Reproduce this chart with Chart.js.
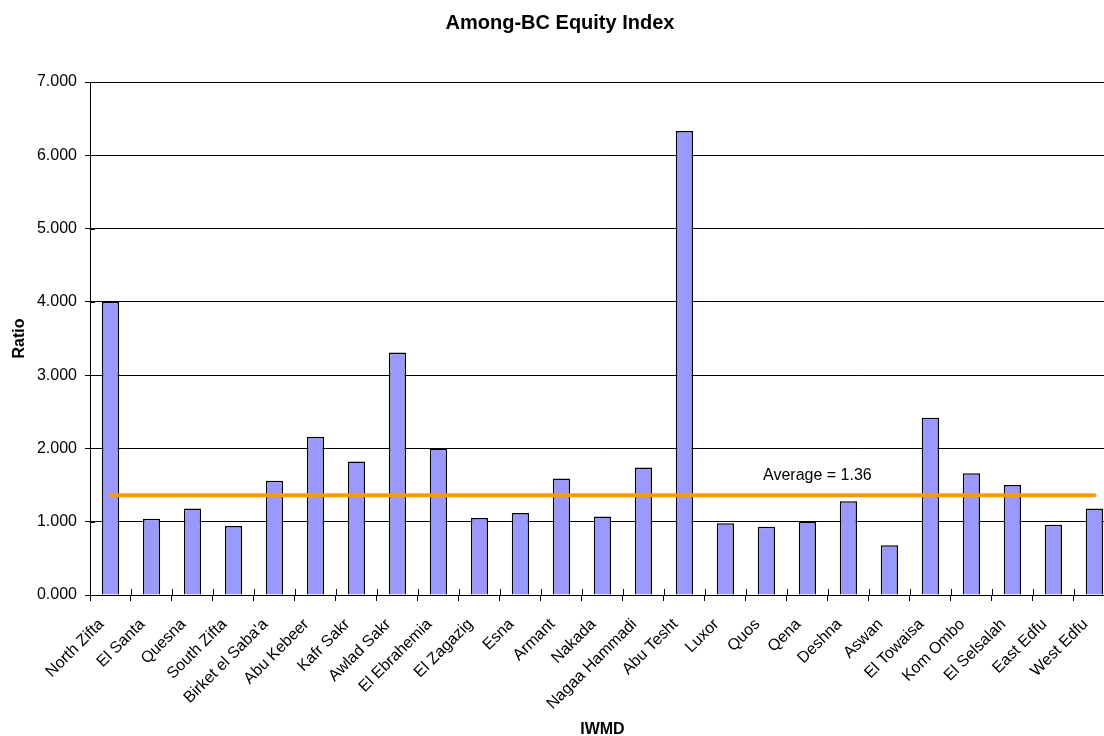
<!DOCTYPE html>
<html>
<head>
<meta charset="utf-8">
<script src="https://cdn.jsdelivr.net/npm/chart.js@4/dist/chart.umd.min.js"></script>
<style>
  html, body { margin: 0; padding: 0; background: #fff; overflow: hidden; }
  #wrap { width: 1122px; height: 736px; position: relative; }
</style>
</head>
<body>
<div id="wrap"><canvas id="chart"></canvas></div>
<script>
const districts = [
  'North Zifta', 'El Santa', 'Quesna', 'South Zifta', "Birket el Saba'a",
  'Abu Kebeer', 'Kafr Sakr', 'Awlad Sakr', 'El Ebrahemia', 'El Zagazig',
  'Esna', 'Armant', 'Nakada', 'Nagaa Hammadi', 'Abu Tesht',
  'Luxor', 'Quos', 'Qena', 'Deshna', 'Aswan',
  'El Towaisa', 'Kom Ombo', 'El Selsalah', 'East Edfu', 'West Edfu',
];
const ratios = [
  4.00, 1.04, 1.18, 0.94, 1.56,
  2.16, 1.82, 3.31, 2.00, 1.05,
  1.12, 1.59, 1.07, 1.74, 6.33,
  0.98, 0.93, 1.00, 1.28, 0.68,
  2.42, 1.66, 1.50, 0.96, 1.18,
];
const AVERAGE = 1.36;
const averageLine = districts.map(() => AVERAGE);

const FONT = 'Liberation Sans, Arial, Helvetica, sans-serif';

// "Average = 1.36" caption sitting just above the orange line
const averageLabel = {
  id: 'averageLabel',
  afterDatasetsDraw(chart) {
    const { ctx, scales: { x, y } } = chart;
    ctx.save();
    ctx.font = `16px ${FONT}`;
    ctx.fillStyle = '#000';
    ctx.textAlign = 'center';
    ctx.textBaseline = 'middle';
    ctx.fillText('Average = ' + AVERAGE.toFixed(2), x.getPixelForValue(17) + 10, y.getPixelForValue(AVERAGE) - 20);
    ctx.restore();
  },
};

// short tick marks poking inside the plot, so the axis ticks cross the axis lines
const innerTicks = {
  id: 'innerTicks',
  afterDraw(chart) {
    const { ctx, chartArea: area, scales: { x, y } } = chart;
    ctx.save();
    ctx.strokeStyle = '#000';
    ctx.lineWidth = 1;
    ctx.beginPath();
    for (let i = 1; i <= districts.length; i++) {
      const px = Math.round((x.getPixelForValue(i - 1) + x.getPixelForValue(i)) / 2) + 0.5;
      ctx.moveTo(px, area.bottom);
      ctx.lineTo(px, area.bottom - 6);
    }
    y.ticks.forEach(t => {
      const py = Math.round(y.getPixelForValue(t.value)) + 0.5;
      ctx.moveTo(area.left, py);
      ctx.lineTo(area.left + 5, py);
    });
    ctx.stroke();
    ctx.restore();
  },
};

new Chart(document.getElementById('chart'), {
  data: {
    labels: districts,
    datasets: [
      {
        type: 'line',
        label: 'Average',
        data: averageLine,
        borderColor: '#ff9900',
        borderWidth: 4,
        borderCapStyle: 'round',
        pointRadius: 0,
        fill: false,
        order: 0,
      },
      {
        type: 'bar',
        label: 'Ratio',
        data: ratios,
        backgroundColor: '#9999ff',
        borderColor: '#000',
        borderWidth: 1.5,
        barPercentage: 0.42,
        categoryPercentage: 1,
        order: 1,
      },
    ],
  },
  options: {
    responsive: true,
    maintainAspectRatio: false,
    animation: false,
    layout: { padding: { left: 0, right: 2, top: 0, bottom: 0 } },
    plugins: {
      legend: { display: false },
      tooltip: { enabled: false },
      title: {
        display: true,
        text: 'Among-BC Equity Index',
        color: '#000',
        font: { family: FONT, size: 20, weight: 'bold' },
        padding: { top: 11, bottom: 47 },
      },
    },
    scales: {
      x: {
        grid: { drawOnChartArea: false, drawTicks: true, tickLength: 6, color: '#000' },
        border: { display: true, color: '#000', width: 1 },
        ticks: {
          color: '#000',
          font: { family: FONT, size: 16 },
          minRotation: 45,
          maxRotation: 45,
          autoSkip: false,
          padding: 14,
          labelOffset: -9,
        },
        title: {
          display: true,
          text: 'IWMD',
          color: '#000',
          font: { family: FONT, size: 16, weight: 'bold' },
          padding: { top: 0, bottom: -3 },
        },
        afterFit(scale) { scale.height = 141; },
      },
      y: {
        min: 0,
        max: 7,
        grid: { color: '#000', lineWidth: 1, drawTicks: true, tickLength: 5 },
        border: { display: true, color: '#000', width: 1 },
        ticks: {
          stepSize: 1,
          color: '#000',
          font: { family: FONT, size: 16 },
          padding: 8,
          callback: v => v.toFixed(3),
        },
        title: {
          display: true,
          text: 'Ratio',
          color: '#000',
          font: { family: FONT, size: 16, weight: 'bold' },
          padding: { top: 10, bottom: 0 },
        },
        afterFit(scale) { scale.width = 90; },
      },
    },
  },
  plugins: [averageLabel, innerTicks],
});
</script>
</body>
</html>
